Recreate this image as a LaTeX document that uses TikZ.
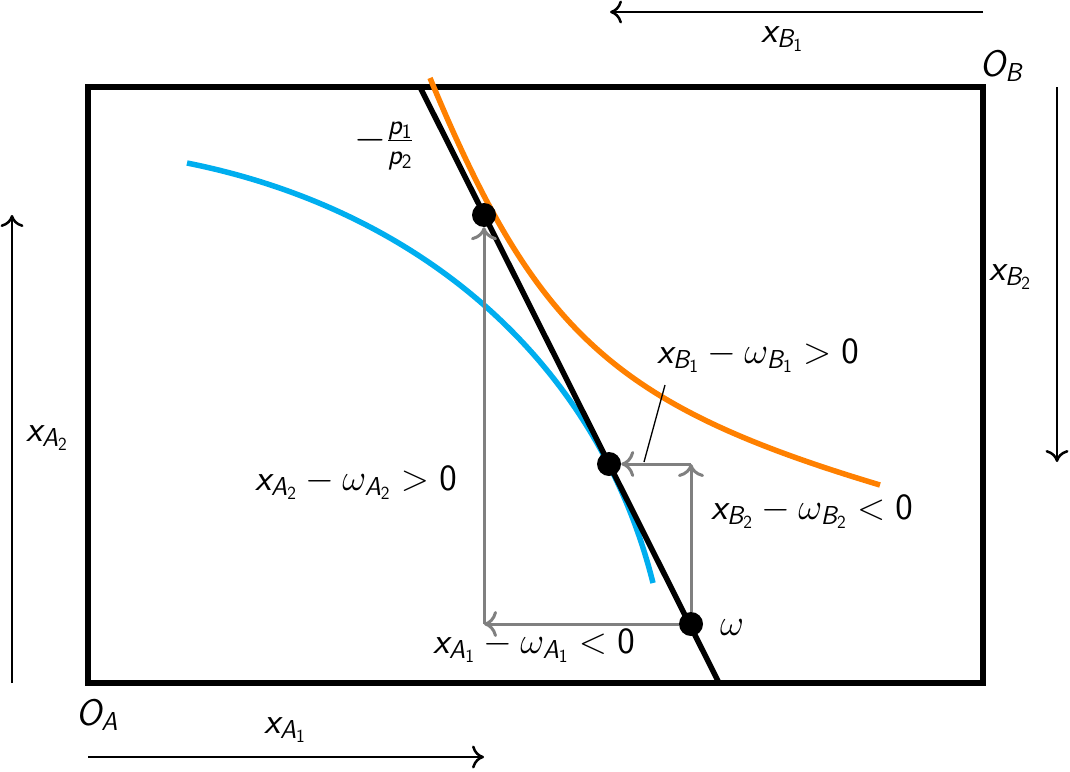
\documentclass[tikz,border=0pt]{standalone}
\usepackage{fix-cm}
\usetikzlibrary{arrows.meta}
\DeclareMathAlphabet{\msl}{OT1}{cmss}{m}{sl}
\DeclareMathAlphabet{\msf}{OT1}{cmss}{m}{n}
\newcommand{\myx}[2]{\msl{x}_{\msl{#1}_{\msf{#2}}}}
\newcommand{\myw}[2]{\omega_{\msl{#1}_{\msf{#2}}}}
\definecolor{icblue}{RGB}{0,174,239}
\definecolor{icorange}{RGB}{255,128,0}
\begin{document}
\begin{tikzpicture}[x=1pt,y=-1pt,
  lbl/.style={font=\fontsize{37}{44}\selectfont, inner sep=0pt},
  fraclbl/.style={font=\fontsize{41}{49}\selectfont, inner sep=0pt},
  axisarrow/.style={line width=2.5pt, -{Computer Modern Rightarrow[length=12pt,width=23pt]}},
  grayarrow/.style={gray, line width=3pt, -{Computer Modern Rightarrow[length=13pt,width=26pt]}},
  dotnode/.style={circle, fill=black, minimum size=24pt, inner sep=0pt},
  curvebase/.style={line width=5.5pt}]
\useasboundingbox (0,0) rectangle (1070,771);

% box
\coordinate (OA) at (88,683);
\coordinate (OBc) at (983,87);
\draw[line width=5.5pt] (88,87) rectangle (983,683);

% axes arrows
\coordinate (xbS) at (983,12);
\coordinate (xbE) at (610,12);
\draw[axisarrow] (xbS) -- (xbE);
\coordinate (ybS) at (1057,87);
\coordinate (ybE) at (1057,462);
\draw[axisarrow] (ybS) -- (ybE);
\coordinate (yaS) at (12,683);
\coordinate (yaE) at (12,215);
\draw[axisarrow] (yaS) -- (yaE);
\coordinate (xaS) at (88,757);
\coordinate (xaE) at (484,757);
\draw[axisarrow] (xaS) -- (xaE);

% axis labels
\node[lbl, anchor=base] (lxB1) at (782,42) {$\myx{B}{1}$};
\node[lbl, anchor=base] (lOB) at (1002,76) {$\msl{O}_{\msl{B}}$};
\node[lbl, anchor=base] (lxB2) at (1010,280) {$\myx{B}{2}$};
\node[lbl, anchor=base] (lxA2) at (47,441) {$\myx{A}{2}$};
\node[lbl, anchor=base] (lOA) at (97,725) {$\msl{O}_{\msl{A}}$};
\node[lbl, anchor=base] (lxA1) at (285,733) {$\myx{A}{1}$};

% indifference curves
\coordinate (bS) at (187,163);
\coordinate (bE) at (653,583);
\draw[curvebase, icblue] (bS) .. controls (422,210) and (598,363) .. (bE);
\coordinate (oS) at (430,78);
\coordinate (oE) at (880,485);
\draw[curvebase, icorange] (oS) .. controls (536,334) and (615,405.5) .. (oE);

% budget line
\coordinate (Ltop) at (420,87);
\coordinate (Lbot) at (719,683);
\draw[line width=5.5pt] (Ltop) -- (Lbot);

% dots
\node[dotnode] (dU) at (484,215) {};
\node[dotnode] (dM) at (609,464) {};
\node[dotnode] (om) at (691,624) {};

% gray excess demand arrows
\coordinate (c1) at (dU |- om);
\coordinate (c2) at (om |- dM);
\draw[grayarrow] (om) -- (c1);
\draw[grayarrow] (c1) -- (dU);
\draw[grayarrow] (om) -- (c2);
\draw[grayarrow] (c2) -- (dM);

% labels
\node[fraclbl, anchor=center] (lp) at (384,146) {$-\frac{\msl{p}_{\msf{1}}}{\msl{p}_{\msf{2}}}$};
\node[lbl, anchor=base] (lA2) at (356,490) {$\myx{A}{2}-\myw{A}{2}>\msf{0}$};
\node[lbl, anchor=base] (lB1) at (758,363) {$\myx{B}{1}-\myw{B}{1}>\msf{0}$};
\node[lbl, anchor=base] (lB2) at (812,519) {$\myx{B}{2}-\myw{B}{2}<\msf{0}$};
\node[lbl, anchor=base] (lA1) at (534,653) {$\myx{A}{1}-\myw{A}{1}<\msf{0}$};
\node[lbl, anchor=base] (lom) at (732,635) {$\omega$};

% pin line
\coordinate (pinA) at (665,385);
\coordinate (pinB) at (644,462);
\draw[line width=1.3pt] (pinA) -- (pinB);
\end{tikzpicture}
\end{document}
